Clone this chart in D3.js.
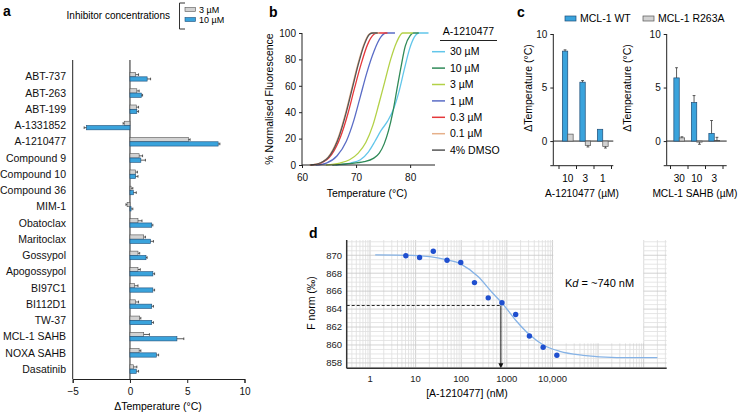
<!DOCTYPE html>
<html><head><meta charset="utf-8">
<script src="https://cdn.jsdelivr.net/npm/d3@7"></script>
<style>
html,body{margin:0;padding:0;background:#fff;}
svg{display:block;font-family:"Liberation Sans",Arial,Helvetica,sans-serif;}
</style></head><body>
<svg id="fig" width="740" height="414"></svg>
<script>
// ================= DATA =================
// Panel a
const compoundsA = ["ABT-737","ABT-263","ABT-199","A-1331852","A-1210477","Compound 9","Compound 10","Compound 36","MIM-1","Obatoclax","Maritoclax","Gossypol","Apogossypol","BI97C1","BI112D1","TW-37","MCL-1 SAHB","NOXA SAHB","Dasatinib"];
const dT3uM  = [0.5, 0.6, 0.55, -0.5, 5.1, 0.8, 0.5, 0.1, -0.25, 0.7, 1.2, 0.7, 0.7, 0.4, 0.5, 0.85, 1.2, 0.8, 0.3];
const dT10uM = [1.5, 1.0, 0.6, -3.8, 7.7, 0.95, 0.5, 0.3, 0.1, 1.9, 1.8, 1.4, 2.0, 2.0, 1.9, 1.9, 4.1, 2.3, 0.55];
const err3uM  = [0.25, 0.2, 0.2, 0.1, 0.15, 0.3, 0.15, 0.15, 0.1, 0.35, 0.15, 0.15, 0.2, 0.3, 0.25, 0.1, 0.5, 0.15, 0.3];
const err10uM = [0.3, 0.1, 0.15, 0.2, 0.15, 0.4, 0.2, 0.25, 0.15, 0.1, 0.25, 0.1, 0.15, 0.15, 0.15, 0.15, 0.6, 0.2, 0.2];
const ticksA = [-5, 0, 5, 10];

// Panel b: melt curves [temperature °C, % normalised fluorescence]
const meltLabels = ["30 µM","10 µM","3 µM","1 µM","0.3 µM","0.1 µM","4% DMSO"];
const melt30  = [[66.2,0],[69,1.5],[70.8,4],[72.3,10],[73.5,18],[74.6,26],[75.8,33],[76.9,42],[77.9,55],[78.9,72],[79.9,88],[80.8,97],[81.6,100],[83.4,100]];
const melt10  = [[65.6,0],[68.5,1],[71.5,2.5],[73.2,5],[74.3,9],[75.2,16],[76.0,26],[76.8,40],[77.5,56],[78.3,74],[79.1,90],[80.0,98],[80.6,100],[81.6,100]];
const melt3   = [[64.4,0],[67,1.5],[68.8,4],[70.4,9],[71.8,17],[73.1,30],[74.2,46],[75.3,63],[76.4,80],[77.5,93],[78.6,100],[80.5,100]];
const melt1   = [[62.5,0],[64.5,1.5],[66.5,7],[68.2,18],[69.6,34],[70.8,52],[72.0,70],[73.3,86],[74.6,97],[75.5,100],[77.2,100]];
const melt03  = [[61.5,0],[63.5,1.5],[65.5,8],[67.1,21],[68.5,39],[69.7,58],[70.9,76],[72.1,91],[73.3,99],[73.9,100],[75.8,100]];
const melt01  = [[61.4,0],[63.3,1.5],[65.2,8],[66.8,22],[68.1,40],[69.2,58],[70.3,76],[71.4,91],[72.4,99],[73.0,100],[74.3,100]];
const meltDMSO= [[61.6,0],[63.4,1.5],[65.3,8],[66.9,22],[68.2,40],[69.3,58],[70.4,76],[71.5,91],[72.5,99],[73.1,100],[74.0,100]];
const meltSeries = [melt30, melt10, melt3, melt1, melt03, melt01, meltDMSO];
const ticksBx = [60, 70, 80];
const ticksBy = [0, 20, 40, 60, 80, 100];

// Panel c
const cLeftCats  = ["10", "3", "1"];          // A-1210477 (µM)
const cLeftWT    = [8.4, 5.5, 1.1];
const cLeftWTerr = [0.12, 0.15, 0.0];
const cLeftMut   = [0.65, -0.4, -0.5];
const cLeftMuterr= [0.0, -0.15, -0.15];
const cRightCats = ["30", "10", "3"];         // MCL-1 SAHB (µM)
const cRightWT   = [5.9, 3.6, 0.72];
const cRightWTerr= [0.95, 0.65, 1.2];
const cRightMut  = [0.3, -0.1, 0.05];
const cRightMuterr=[0.1, -0.2, 0.3];
const seriesC = ["MCL-1 WT", "MCL-1 R263A"];
const ticksCy = [0, 5, 10];

// Panel d
const concD  = [6.1, 12.2, 24.4, 48.8, 97.7, 195, 391, 781, 1563, 3125, 6250, 12500];
const fnormD = [869.95, 869.75, 870.45, 869.45, 869.2, 866.95, 865.25, 864.7, 863.4, 861.0, 859.75, 858.85];
const fitConc = [1.3, 8, 44, 103, 237, 465, 840, 1600, 3200, 6300, 14500, 47000, 260000, 2000000];
const fitF    = [870.05, 869.98, 869.55, 868.96, 867.6, 865.9, 864.5, 862.7, 861.1, 860.0, 859.3, 858.85, 858.6, 858.58];
const kdConc = 740, kdF = 864.4;
const ticksDx = [1, 10, 100, 1000, 10000];
const tickLabelsDx = ["1", "10", "100", "1000", "10,000"];
const ticksDy = [858, 860, 862, 864, 866, 868, 870];

// ================= STYLE =================
const BLUE = "#3aa3dc", BLUE_STROKE = "#1f4e78", GREY = "#d2d2d2", GREY_STROKE = "#555";
const meltColors = ["#62c6ea", "#2f8a58", "#b3d147", "#5a6cc6", "#e5383b", "#e6b08a", "#555555"];
const AX = "#222";

const svg = d3.select("#fig");
svg.append("rect").attr("width",740).attr("height",414).attr("fill","#fff");

function panelLabel(t, x, y){
  svg.append("text").attr("x",x).attr("y",y).attr("font-size",14).attr("font-weight","bold").text(t);
}

// ================= PANEL A =================
(function(){
  const g = svg.append("g");
  const x = d3.scaleLinear().domain([-5,10]).range([72.7,244.5]);
  const y = d3.scaleBand().domain(compoundsA).range([69.5,378]);
  const bh = 4.3;
  const cy = d => y(d) + y.bandwidth()/2 - 0.8;
  g.append("line").attr("x1",x(0)).attr("x2",x(0)).attr("y1",60).attr("y2",379).attr("stroke",AX).attr("stroke-width",1);
  g.append("line").attr("x1",x(-5)).attr("x2",x(-5)).attr("y1",60).attr("y2",379).attr("stroke",AX).attr("stroke-width",1);
  const ax = g.append("g").attr("transform","translate(0,379)")
    .call(d3.axisBottom(x).tickValues(ticksA).tickSize(4).tickFormat(d3.format("d")));
  ax.select(".domain").attr("stroke",AX);
  ax.selectAll("line").attr("stroke",AX);
  ax.selectAll("text").attr("font-size",10).attr("fill","#111").attr("font-family",null).attr("dy","0.9em");
  g.append("text").attr("x",158).attr("y",409.5).attr("text-anchor","middle").attr("font-size",10.5).text("ΔTemperature (°C)");
  g.selectAll("text.cat").data(compoundsA).join("text").attr("class","cat")
    .attr("x",66).attr("y",d=>cy(d)).attr("dy","0.35em").attr("text-anchor","end").attr("font-size",10.5).attr("fill","#111").text(d=>d);
  const rows = compoundsA.map((c,i)=>({c, v3:dT3uM[i], v10:dT10uM[i], e3:err3uM[i], e10:err10uM[i]}));
  function errbar(xv, ev, yc){
    const s = xv>=0?1:-1;
    const x1 = x(xv), x2 = x(xv + s*ev);
    g.append("line").attr("x1",x1).attr("x2",x2).attr("y1",yc).attr("y2",yc).attr("stroke","#333").attr("stroke-width",0.8);
    g.append("line").attr("x1",x2).attr("x2",x2).attr("y1",yc-1.3).attr("y2",yc+1.3).attr("stroke","#333").attr("stroke-width",0.8);
  }
  rows.forEach(r=>{
    const c0 = cy(r.c);
    g.append("rect").attr("x",Math.min(x(0),x(r.v3))).attr("width",Math.abs(x(r.v3)-x(0))).attr("y",c0-bh).attr("height",bh)
      .attr("fill",GREY).attr("stroke",GREY_STROKE).attr("stroke-width",0.6);
    errbar(r.v3, r.e3, c0-bh/2);
    g.append("rect").attr("x",Math.min(x(0),x(r.v10))).attr("width",Math.abs(x(r.v10)-x(0))).attr("y",c0).attr("height",bh)
      .attr("fill",BLUE).attr("stroke",BLUE_STROKE).attr("stroke-width",0.6);
    errbar(r.v10, r.e10, c0+bh/2);
  });
  // legend
  g.append("text").attr("x",170).attr("y",19).attr("text-anchor","end").attr("font-size",10).text("Inhibitor concentrations");
  g.append("path").attr("d","M185,3 H179.5 V29 H185").attr("fill","none").attr("stroke","#333").attr("stroke-width",1);
  g.append("rect").attr("x",185).attr("y",7.5).attr("width",10.5).attr("height",4).attr("fill",GREY).attr("stroke",GREY_STROKE).attr("stroke-width",0.6);
  g.append("rect").attr("x",185).attr("y",17.5).attr("width",10.5).attr("height",4).attr("fill",BLUE).attr("stroke",BLUE_STROKE).attr("stroke-width",0.6);
  g.append("text").attr("x",199).attr("y",12.8).attr("font-size",9).text("3 µM");
  g.append("text").attr("x",199).attr("y",23).attr("font-size",9).text("10 µM");
  panelLabel("a",3,16);
})();

// ================= PANEL B =================
(function(){
  const g = svg.append("g");
  const x = d3.scaleLinear().domain([60,84.6]).range([302,435]);
  const y = d3.scaleLinear().domain([0,100]).range([165,33]);
  const line = d3.line().x(d=>x(d[0])).y(d=>y(d[1])).curve(d3.curveMonotoneX);
  meltSeries.forEach((s,i)=>{
    g.append("path").attr("d",line(s)).attr("fill","none").attr("stroke",meltColors[i]).attr("stroke-width",1.3);
  });
  const ay = g.append("g").attr("transform","translate(302,0)").call(d3.axisLeft(y).tickValues(ticksBy).tickSize(3));
  const axb = g.append("g").attr("transform","translate(0,165)").call(d3.axisBottom(x).tickValues(ticksBx).tickSize(3));
  [ay,axb].forEach(a=>{
    a.select(".domain").attr("stroke",AX);
    a.selectAll("line").attr("stroke",AX);
    a.selectAll("text").attr("font-size",10).attr("fill","#111").attr("font-family",null);
  });
  ay.select(".domain").attr("d","M0,33V165");
  axb.select(".domain").attr("d","M302,0H435");
  axb.selectAll("text").attr("dy","1em");
  g.append("text").attr("transform","translate(273,99) rotate(-90)").attr("text-anchor","middle").attr("font-size",10.5).text("% Normalised Fluorescence");
  g.append("text").attr("x",367).attr("y",196.5).attr("text-anchor","middle").attr("font-size",10.5).text("Temperature (°C)");
  g.append("text").attr("x",468.5).attr("y",35).attr("text-anchor","middle").attr("font-size",10.5).text("A-1210477");
  g.append("line").attr("x1",440).attr("x2",497).attr("y1",40.5).attr("y2",40.5).attr("stroke","#222").attr("stroke-width",1);
  meltLabels.forEach((lab,i)=>{
    const yy = 51.7 + i*16.4;
    g.append("line").attr("x1",432).attr("x2",445).attr("y1",yy).attr("y2",yy).attr("stroke",meltColors[i]).attr("stroke-width",1.5);
    g.append("text").attr("x",450).attr("y",yy).attr("dy","0.35em").attr("font-size",10.5).text(lab);
  });
  panelLabel("b",269,17);
})();

// ================= PANEL C =================
function panelC(cats, wt, wtErr, mut, mutErr, axisX, bandRange, endX, titleX, xTitle, xTitleX, anchor){
  const g = svg.append("g");
  const y = d3.scaleLinear().domain([-2.3,10]).range([165.7,34]);
  const xb = d3.scaleBand().domain(cats).range(bandRange);
  const bw = 5.4;
  const ay = g.append("g").attr("transform",`translate(${axisX},0)`).call(d3.axisLeft(y).tickValues(ticksCy).tickSize(3));
  ay.select(".domain").attr("stroke",AX).attr("d","M0,34V165.7");
  ay.selectAll("line").attr("stroke",AX);
  ay.selectAll("text").attr("font-size",10).attr("fill","#111").attr("font-family",null);
  g.append("line").attr("x1",axisX-3).attr("x2",axisX).attr("y1",165.7).attr("y2",165.7).attr("stroke",AX);
  g.append("line").attr("x1",axisX).attr("x2",endX).attr("y1",y(0)).attr("y2",y(0)).attr("stroke",AX).attr("stroke-width",1);
  g.append("line").attr("x1",axisX).attr("x2",endX).attr("y1",165.7).attr("y2",165.7).attr("stroke",AX).attr("stroke-width",1);
  const bounds = cats.map(c=>xb(c)).concat([bandRange[1]]);
  bounds.forEach(b=>g.append("line").attr("x1",b).attr("x2",b).attr("y1",165.7).attr("y2",169).attr("stroke",AX));
  cats.forEach((c,i)=>{
    const cx = xb(c)+xb.bandwidth()/2;
    g.append("text").attr("x",cx).attr("y",181.5).attr("text-anchor","middle").attr("font-size",10).text(c);
    g.append("rect").attr("x",cx-bw).attr("width",bw).attr("y",Math.min(y(0),y(wt[i]))).attr("height",Math.abs(y(wt[i])-y(0)))
      .attr("fill",BLUE).attr("stroke",BLUE_STROKE).attr("stroke-width",0.7);
    g.append("rect").attr("x",cx).attr("width",bw).attr("y",Math.min(y(0),y(mut[i]))).attr("height",Math.abs(y(mut[i])-y(0)))
      .attr("fill",GREY).attr("stroke",GREY_STROKE).attr("stroke-width",0.7);
    [[cx-bw/2, wt[i], wtErr[i]],[cx+bw/2, mut[i], mutErr[i]]].forEach(([ex,v,e])=>{
      if(e===0) return;
      g.append("line").attr("x1",ex).attr("x2",ex).attr("y1",y(v)).attr("y2",y(v+e)).attr("stroke","#333").attr("stroke-width",0.8);
      g.append("line").attr("x1",ex-1.4).attr("x2",ex+1.4).attr("y1",y(v+e)).attr("y2",y(v+e)).attr("stroke","#333").attr("stroke-width",0.8);
    });
  });
  g.append("text").attr("transform",`translate(${titleX},88) rotate(-90)`).attr("text-anchor","middle").attr("font-size",10.5).text("ΔTemperature (°C)");
  g.append("text").attr("x",xTitleX).attr("y",196.5).attr("text-anchor",anchor).attr("font-size",10.2).text(xTitle);
}
panelC(cLeftCats, cLeftWT, cLeftWTerr, cLeftMut, cLeftMuterr, 553.3, [559,611.5], 613.3, 531.5, "A-1210477 (µM)", 582, "middle");
panelC(cRightCats, cRightWT, cRightWTerr, cRightMut, cRightMuterr, 666.7, [670.5,723], 726.7, 630.5, "MCL-1 SAHB (µM)", 737.5, "end");
svg.append("rect").attr("x",565).attr("y",16).attr("width",11).attr("height",5).attr("fill",BLUE).attr("stroke",BLUE_STROKE).attr("stroke-width",0.7);
svg.append("text").attr("x",580).attr("y",22).attr("font-size",10.5).text(seriesC[0]);
svg.append("rect").attr("x",643).attr("y",16).attr("width",11).attr("height",5).attr("fill",GREY).attr("stroke",GREY_STROKE).attr("stroke-width",0.7);
svg.append("text").attr("x",658).attr("y",22).attr("font-size",10.5).text(seriesC[1]);
panelLabel("c",517,17);

// ================= PANEL D =================
(function(){
  const g = svg.append("g");
  const L = 346.7, R = 666.7, T = 240, B = 368.3;
  const x = d3.scaleLog().domain([0.308, 3.2e6]).range([L,R]);
  const y = d3.scaleLinear().domain([857.4, 871.7]).range([B,T]);
  const vlines = [];
  for(let e=-1;e<=6;e++) for(let k=1;k<=9;k++){ const v=k*Math.pow(10,e); if(v>=0.308 && v<=3.2e6) vlines.push(v); }
  g.selectAll("line.vg").data(vlines).join("line").attr("class","vg")
    .attr("x1",d=>x(d)).attr("x2",d=>x(d)).attr("y1",T).attr("y2",B)
    .attr("stroke",d=>Math.abs(Math.log10(d)%1)<1e-9?"#c4c4c4":"#dedede").attr("stroke-width",0.8);
  const hlines = d3.range(857.5, 871.6, 0.5);
  g.selectAll("line.hg").data(hlines).join("line").attr("class","hg")
    .attr("x1",L).attr("x2",R).attr("y1",d=>y(d)).attr("y2",d=>y(d))
    .attr("stroke",d=>(Math.round(d*2)%4===0)?"#c8c8c8":"#e0e0e0").attr("stroke-width",0.8);
  g.append("rect").attr("x",553.3).attr("y",T).attr("width",90).attr("height",343.3-T).attr("fill","#fff");
  const line = d3.line().x(d=>x(d[0])).y(d=>y(d[1])).curve(d3.curveMonotoneX);
  g.append("path").attr("d",line(fitConc.map((c,i)=>[c,fitF[i]]))).attr("fill","none").attr("stroke","#86b3e6").attr("stroke-width",1.3);
  g.append("line").attr("x1",L).attr("x2",x(kdConc)).attr("y1",y(kdF)).attr("y2",y(kdF)).attr("stroke","#111").attr("stroke-width",0.9).attr("stroke-dasharray","3,2");
  g.append("line").attr("x1",x(kdConc)).attr("x2",x(kdConc)).attr("y1",y(kdF)).attr("y2",B-4).attr("stroke","#111").attr("stroke-width",1);
  g.append("path").attr("d",`M${x(kdConc)-2.5},${B-5} L${x(kdConc)+2.5},${B-5} L${x(kdConc)},${B} Z`).attr("fill","#111");
  g.selectAll("circle").data(concD.map((c,i)=>[c,fnormD[i]])).join("circle")
    .attr("cx",d=>x(d[0])).attr("cy",d=>y(d[1])).attr("r",2.7).attr("fill","#1f4fcf");
  g.append("line").attr("x1",L).attr("x2",L).attr("y1",T).attr("y2",B).attr("stroke","#333").attr("stroke-width",1.5);
  g.append("line").attr("x1",L).attr("x2",R).attr("y1",B).attr("y2",B).attr("stroke","#333").attr("stroke-width",1.5);
  ticksDy.forEach(v=>g.append("text").attr("x",342).attr("y",y(v)).attr("dy","0.35em").attr("text-anchor","end").attr("font-size",9.5).attr("fill","#222").text(v));
  ticksDx.forEach((v,i)=>g.append("text").attr("x",x(v)).attr("y",381.5).attr("text-anchor","middle").attr("font-size",9.5).attr("fill","#222").text(tickLabelsDx[i]));
  g.append("text").attr("transform","translate(315,303) rotate(-90)").attr("text-anchor","middle").attr("font-size",10.5).text("F norm (‰)");
  g.append("text").attr("x",467).attr("y",397).attr("text-anchor","middle").attr("font-size",10.5).text("[A-1210477] (nM)");
  const kt = g.append("text").attr("x",565).attr("y",287).attr("font-size",11);
  kt.append("tspan").text("K");
  kt.append("tspan").attr("font-style","italic").text("d");
  kt.append("tspan").text(" = ~740 nM");
  panelLabel("d",309,238);
})();
</script>
</body></html>
